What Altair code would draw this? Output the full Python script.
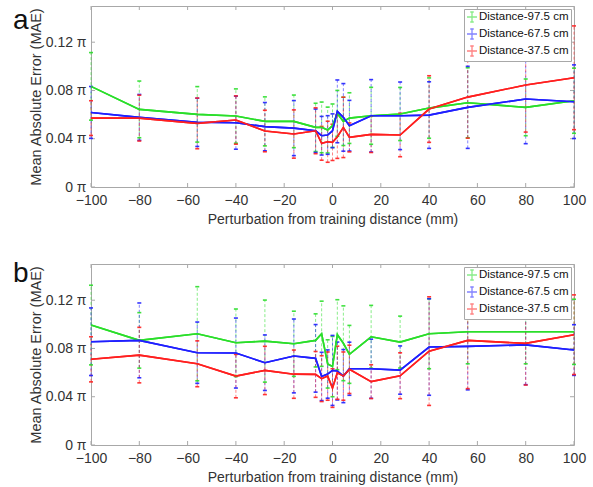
import altair as alt
import pandas as pd

# ---------------- data ----------------
x_vals = [-100, -80, -56, -40, -28, -16, -7, -4.5, -2, 0, 2, 4.5, 7, 16, 28, 40, 56, 80, 100]
series_names = ["Distance-97.5 cm", "Distance-67.5 cm", "Distance-37.5 cm"]
series_colors = ["#2ade2a", "#1f1fff", "#ff1f1f"]
x_ticks = [-100, -80, -60, -40, -20, 0, 20, 40, 60, 80, 100]
y_ticks = [0, 0.04, 0.08, 0.12]

# panel a (units of pi)
a_975_mean = [0.0834, 0.0643, 0.0602, 0.0588, 0.0544, 0.0544, 0.0494, 0.0494, 0.0472, 0.0508, 0.061, 0.0544, 0.0571, 0.059, 0.0605, 0.0654, 0.0698, 0.066, 0.0715]
a_975_std = [0.028, 0.0235, 0.023, 0.0225, 0.0203, 0.0218, 0.02, 0.021, 0.019, 0.018, 0.019, 0.02, 0.021, 0.0236, 0.022, 0.025, 0.029, 0.0235, 0.027]
a_675_mean = [0.0618, 0.0577, 0.0536, 0.0533, 0.05, 0.0488, 0.0466, 0.0425, 0.0431, 0.0466, 0.0627, 0.0577, 0.0508, 0.059, 0.059, 0.0596, 0.066, 0.0729, 0.0707]
a_675_std = [0.0215, 0.019, 0.02, 0.022, 0.02, 0.0228, 0.018, 0.016, 0.016, 0.014, 0.026, 0.028, 0.021, 0.03, 0.028, 0.0276, 0.034, 0.037, 0.0305]
a_375_mean = [0.0571, 0.0571, 0.0527, 0.0555, 0.0464, 0.0439, 0.0466, 0.0362, 0.0375, 0.037, 0.0417, 0.0494, 0.0411, 0.0436, 0.0431, 0.0646, 0.0745, 0.0845, 0.0905]
a_375_std = [0.0144, 0.019, 0.021, 0.02, 0.0172, 0.02, 0.019, 0.014, 0.017, 0.015, 0.018, 0.025, 0.012, 0.015, 0.018, 0.0276, 0.034, 0.039, 0.043]

# panel b (units of pi)
b_975_mean = [0.0994, 0.0867, 0.0922, 0.0847, 0.0861, 0.0839, 0.0867, 0.0922, 0.0672, 0.065, 0.0914, 0.0843, 0.0751, 0.0897, 0.0853, 0.0922, 0.0938, 0.0938, 0.0938]
b_975_std = [0.033, 0.023, 0.039, 0.028, 0.034, 0.027, 0.022, 0.027, 0.02, 0.025, 0.029, 0.031, 0.024, 0.026, 0.0215, 0.029, 0.0265, 0.0265, 0.027]
b_675_mean = [0.0856, 0.0867, 0.0765, 0.0762, 0.0682, 0.0738, 0.0718, 0.0568, 0.0588, 0.0618, 0.0613, 0.0571, 0.0632, 0.0632, 0.0621, 0.0812, 0.0817, 0.083, 0.0787]
b_675_std = [0.028, 0.031, 0.0254, 0.029, 0.023, 0.0306, 0.028, 0.02, 0.02, 0.029, 0.024, 0.022, 0.022, 0.0245, 0.02, 0.04, 0.036, 0.033, 0.021]
b_375_mean = [0.071, 0.0745, 0.0673, 0.0571, 0.0618, 0.0587, 0.0585, 0.055, 0.0571, 0.0472, 0.0599, 0.0571, 0.0627, 0.0525, 0.0574, 0.0778, 0.0867, 0.0842, 0.0914]
b_375_std = [0.0187, 0.023, 0.019, 0.018, 0.02, 0.02, 0.019, 0.019, 0.02, 0.016, 0.022, 0.02, 0.02, 0.014, 0.019, 0.045, 0.04, 0.0345, 0.033]


def build_df(means, stds):
    rows = []
    for name, m, s in zip(series_names, means, stds):
        for x, mm, ss in zip(x_vals, m, s):
            rows.append({"series": name, "x": x, "mean": mm, "lo": mm - ss, "hi": mm + ss})
    return pd.DataFrame(rows)


df_a = build_df([a_975_mean, a_675_mean, a_375_mean], [a_975_std, a_675_std, a_375_std])
df_b = build_df([b_975_mean, b_675_mean, b_375_mean], [b_975_std, b_675_std, b_375_std])

W, H = 483, 181
FONT = "Liberation Sans"
TXT = "#333333"
GRAY = "#a8a8a8"

xscale = alt.Scale(domain=[-100, 100], nice=False, zero=False)
yscale = alt.Scale(domain=[0, 0.15], nice=False)
cscale = alt.Scale(domain=series_names, range=series_colors)

x_axis = alt.Axis(values=x_ticks, title="Perturbation from training distance (mm)", ticks=False,
                  domain=False, grid=False, labelPadding=6, titlePadding=5, labelFontSize=14,
                  titleFontSize=14, labelFont=FONT, titleFont=FONT, labelColor=TXT,
                  titleColor=TXT, titleFontWeight="normal", labelFlush=False)
y_axis = alt.Axis(values=y_ticks, title="Mean Absolute Error (MAE)", ticks=False, domain=False,
                  grid=False, labelPadding=5, titlePadding=2, labelFontSize=14, titleFontSize=14.5,
                  labelFont=FONT, titleFont=FONT, labelColor=TXT, titleColor=TXT,
                  titleFontWeight="normal",
                  labelExpr="datum.value == 0 ? '0 π' : format(datum.value, '.2f') + ' π'")

legend = alt.Legend(title=None, orient="none", legendX=373, legendY=3, fillColor="white",
                    strokeColor=GRAY, padding=2, labelFontSize=11.5, labelFont=FONT,
                    labelColor="#111111", rowPadding=1, symbolSize=100, symbolStrokeWidth=1.3,
                    symbolType="M-1,0H1M0,-1V1M-0.35,-1H0.35M-0.35,1H0.35", labelOffset=1,
                    cornerRadius=0)


def panel(df, label, label_y):
    base = alt.Chart(df)
    X = alt.X("x:Q", scale=xscale, axis=x_axis)
    col = alt.Color("series:N", scale=cscale, legend=legend)

    line = base.mark_line(strokeWidth=1.6).encode(
        x=X, y=alt.Y("mean:Q", scale=yscale, axis=y_axis), color=col)
    bars = base.mark_rule(strokeDash=[3, 2], strokeWidth=1, opacity=0.55).encode(
        x=X, y=alt.Y("lo:Q", scale=yscale, axis=y_axis), y2="hi:Q", color=col)
    cap_lo = base.mark_tick(orient="horizontal", size=4, thickness=1.6, opacity=0.9).encode(
        x=X, y=alt.Y("lo:Q", scale=yscale, axis=y_axis), color=col)
    cap_hi = base.mark_tick(orient="horizontal", size=4, thickness=1.6, opacity=0.9).encode(
        x=X, y=alt.Y("hi:Q", scale=yscale, axis=y_axis), color=col)

    xt = pd.DataFrame({"v": x_ticks})
    yt = pd.DataFrame({"v": y_ticks})
    xtick_b = alt.Chart(xt).mark_rule(color=GRAY).encode(
        x=alt.X("v:Q", scale=xscale, axis=x_axis), y=alt.value(H), y2=alt.value(H - 4))
    xtick_t = alt.Chart(xt).mark_rule(color=GRAY).encode(
        x=alt.X("v:Q", scale=xscale, axis=x_axis), y=alt.value(0), y2=alt.value(4))
    ytick_l = alt.Chart(yt).mark_rule(color=GRAY).encode(
        y=alt.Y("v:Q", scale=yscale, axis=y_axis), x=alt.value(0), x2=alt.value(4))
    ytick_r = alt.Chart(yt).mark_rule(color=GRAY).encode(
        y=alt.Y("v:Q", scale=yscale, axis=y_axis), x=alt.value(W - 4), x2=alt.value(W))

    lab = alt.Chart(pd.DataFrame({"t": [label]})).mark_text(
        font=FONT, fontSize=28, align="left", baseline="middle", color="#111111").encode(
        text="t:N", x=alt.value(-78), y=alt.value(label_y))

    return alt.layer(line, xtick_b, xtick_t, ytick_l, ytick_r, bars, cap_lo, cap_hi, line, lab).properties(
        width=W, height=H)


chart = alt.vconcat(panel(df_a, "a", 15), panel(df_b, "b", 10), spacing=32).resolve_scale(
    color="independent").resolve_legend(color="independent").properties(
    padding={"left": 12, "top": 5, "right": 5, "bottom": 5}, background="white"
).configure_view(stroke=GRAY, strokeWidth=1)

chart.save("out.html", embed_options={"renderer": "svg", "actions": False})
